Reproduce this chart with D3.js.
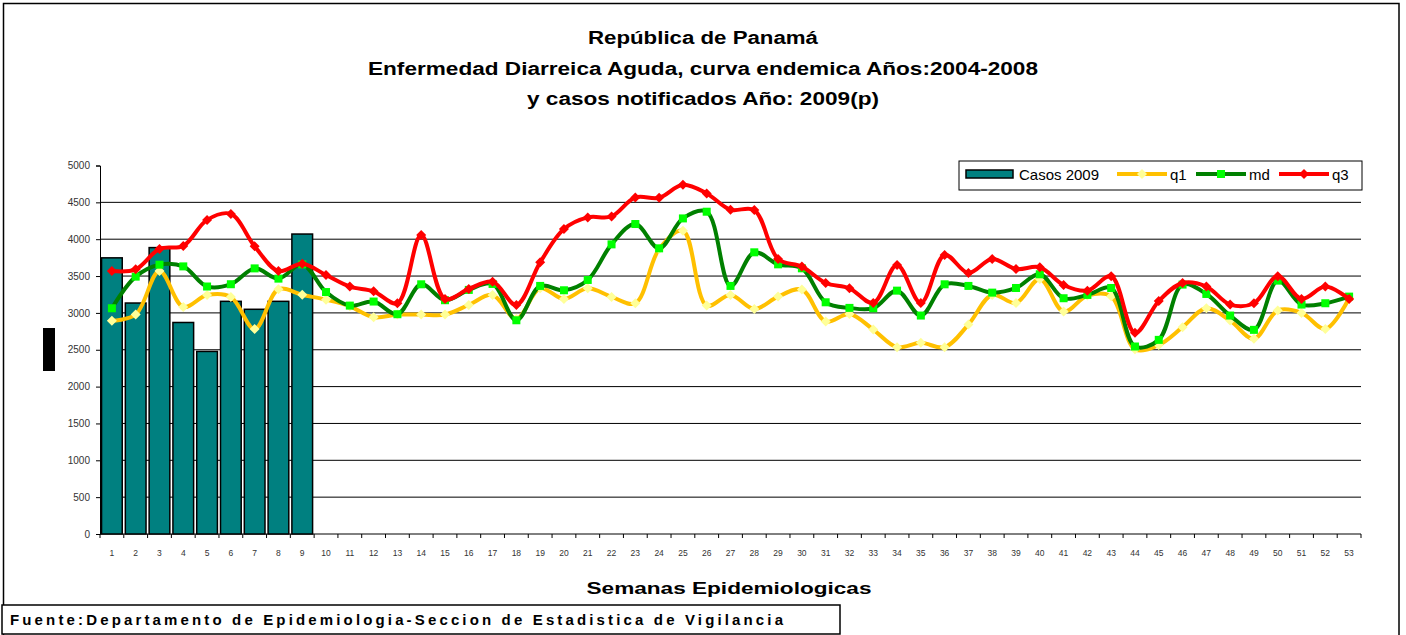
<!DOCTYPE html>
<meta charset="utf-8">
<script src="https://d3js.org/d3.v7.min.js"></script>
<style>
  body { margin: 0; background: #fff; }
  text { font-family: "Liberation Sans", Arial, sans-serif; }
</style>
<div id="chart"></div>
<script>

// data
var weeks = d3.range(1, 54);
var casos2009 = [3747, 3134, 3886, 2870, 2477, 3157, 3049, 3157, 4070];
var q1 = [2893, 2978, 3568, 3081, 3242, 3215, 2781, 3322, 3246, 3179,
          3090, 2941, 2977, 2977, 2977, 3108, 3244, 2919, 3334, 3190,
          3334, 3217, 3131, 3867, 4115, 3099, 3244, 3054, 3221, 3316,
          2883, 2986, 2774, 2535, 2594, 2535, 2842, 3244, 3135, 3461,
          3018, 3235, 3226, 2508, 2565, 2806, 3063, 2896, 2648, 3032,
          3000, 2783, 3199];
var md = [3063, 3492, 3654, 3631, 3358, 3389, 3604, 3465, 3658, 3283,
          3099, 3154, 2982, 3388, 3172, 3312, 3393, 2900, 3366, 3307,
          3447, 3930, 4206, 3876, 4282, 4373, 3366, 3822, 3659, 3605,
          3144, 3068, 3063, 3302, 2964, 3388, 3366, 3275, 3338, 3524,
          3199, 3244, 3338, 2544, 2634, 3384, 3257, 2964, 2770, 3438,
          3113, 3131, 3221];
var q3 = [3568, 3591, 3868, 3909, 4262, 4343, 3904, 3568, 3667, 3514,
          3357, 3293, 3131, 4057, 3190, 3325, 3424, 3108, 3686, 4138,
          4296, 4309, 4567, 4562, 4738, 4621, 4400, 4395, 3731, 3628,
          3406, 3334, 3135, 3650, 3135, 3786, 3542, 3731, 3596, 3619,
          3379, 3302, 3497, 2729, 3160, 3406, 3357, 3113, 3131, 3497,
          3190, 3357, 3190];
var yTicks = d3.range(0, 5001, 500);

var titleLines = ["República de Panamá",
                  "Enfermedad Diarreica Aguda, curva endemica Años:2004-2008",
                  "y casos notificados Año: 2009(p)"];

var W = 1406, H = 635;
var plot = {left: 100, right: 1361, top: 165.5, bottom: 534};

var svg = d3.select("#chart").append("svg")
    .attr("width", W).attr("height", H);

svg.append("rect").attr("width", W).attr("height", H).attr("fill", "#fff");

// outer frame
svg.append("rect")
    .attr("x", 3.5).attr("y", 3.5)
    .attr("width", 1395.5).attr("height", 660)
    .attr("fill", "none").attr("stroke", "#000").attr("stroke-width", 1.5);

// title
var titleWidths = [230, 670, 352];
svg.selectAll(".title").data(titleLines).enter().append("text")
    .attr("x", 703)
    .attr("y", function(d, i) { return 44 + i * 30.5; })
    .attr("text-anchor", "middle")
    .attr("font-size", 18).attr("font-weight", "bold")
    .attr("textLength", function(d, i) { return titleWidths[i]; })
    .attr("lengthAdjust", "spacingAndGlyphs")
    .text(function(d) { return d; });

var x = d3.scaleBand().domain(weeks).range([plot.left, plot.right]);
var xBar = d3.scaleBand().domain(weeks).range([plot.left, plot.right])
    .paddingInner(0.13).paddingOuter(0.065);
var y = d3.scaleLinear().domain([0, 5000]).range([plot.bottom, plot.top]);

// gridlines
svg.append("g").selectAll("line")
  .data(yTicks.filter(function(v) { return v > 0 && v < 5000; }))
  .enter().append("line")
    .attr("x1", plot.left).attr("x2", plot.right)
    .attr("y1", function(d) { return y(d); })
    .attr("y2", function(d) { return y(d); })
    .attr("stroke", "#000").attr("stroke-width", 1);

// y axis
var yAxis = svg.append("g")
    .attr("transform", "translate(" + plot.left + ",0)")
    .call(d3.axisLeft(y).tickValues(yTicks).tickFormat(d3.format("d"))
      .tickSize(4).tickPadding(6));
yAxis.selectAll("text").attr("font-size", 10).attr("fill", "#333")
    .style("font-family", "Liberation Sans, Arial, sans-serif");
yAxis.selectAll("line, path").attr("stroke", "#000");

// x axis (ticks on band edges)
var xg = svg.append("g");
xg.append("line")
    .attr("x1", plot.left).attr("x2", plot.right)
    .attr("y1", plot.bottom).attr("y2", plot.bottom)
    .attr("stroke", "#000");
xg.selectAll(".xt").data(weeks.concat([54])).enter().append("line")
    .attr("x1", function(d) { return d < 54 ? x(d) : plot.right; })
    .attr("x2", function(d) { return d < 54 ? x(d) : plot.right; })
    .attr("y1", plot.bottom).attr("y2", plot.bottom + 4)
    .attr("stroke", "#000");
xg.selectAll(".xl").data(weeks).enter().append("text")
    .attr("x", function(d) { return x(d) + x.bandwidth() / 2; })
    .attr("y", 556)
    .attr("text-anchor", "middle")
    .attr("font-size", 8.5).attr("fill", "#333")
    .text(function(d) { return d; });

// bars
svg.append("g").selectAll("rect")
  .data(casos2009)
  .enter().append("rect")
    .attr("x", function(d, i) { return xBar(weeks[i]); })
    .attr("y", function(d) { return y(d); })
    .attr("width", xBar.bandwidth())
    .attr("height", function(d) { return y(0) - y(d); })
    .attr("fill", "#008080")
    .attr("stroke", "#000").attr("stroke-width", 1.5);

// lines
var series = [
  {name: "q1", values: q1, line: "#FFC000", marker: "#FFFF99", shape: "diamond"},
  {name: "md", values: md, line: "#008000", marker: "#00FF00", shape: "square"},
  {name: "q3", values: q3, line: "#FF0000", marker: "#FF0000", shape: "diamond"}
];

var line = d3.line()
    .x(function(d, i) { return x(weeks[i]) + x.bandwidth() / 2; })
    .y(function(d) { return y(d); })
    .curve(d3.curveCatmullRom.alpha(0.5));

function marker(g, s, cx, cy) {
  if (s.shape == "square") {
    g.append("rect")
      .attr("x", cx - 4).attr("y", cy - 4)
      .attr("width", 8).attr("height", 8)
      .attr("fill", s.marker);
  } else {
    g.append("path")
      .attr("d", "M" + cx + "," + (cy - 5) + "L" + (cx + 5) + "," + cy +
                 "L" + cx + "," + (cy + 5) + "L" + (cx - 5) + "," + cy + "Z")
      .attr("fill", s.marker);
  }
}

series.forEach(function(s) {
  var g = svg.append("g");
  g.append("path")
    .attr("d", line(s.values))
    .attr("fill", "none")
    .attr("stroke", s.line).attr("stroke-width", 4)
    .attr("stroke-linejoin", "round");
  s.values.forEach(function(v, i) {
    marker(g, s, x(weeks[i]) + x.bandwidth() / 2, y(v));
  });
});

// legend
var lg = svg.append("g");
lg.append("rect")
    .attr("x", 959).attr("y", 161).attr("width", 403).attr("height", 29)
    .attr("fill", "#fff").attr("stroke", "#000").attr("stroke-width", 1);
lg.append("rect")
    .attr("x", 966).attr("y", 170).attr("width", 47).attr("height", 8)
    .attr("fill", "#008080").attr("stroke", "#000").attr("stroke-width", 1.5);
lg.append("text").attr("x", 1019).attr("y", 180)
    .attr("font-size", 15).text("Casos 2009");
var legX = [1117, 1196, 1279];
series.forEach(function(s, i) {
  lg.append("line")
    .attr("x1", legX[i]).attr("x2", legX[i] + 50)
    .attr("y1", 174).attr("y2", 174)
    .attr("stroke", s.line).attr("stroke-width", 4);
  marker(lg, s, legX[i] + 25, 174);
  lg.append("text").attr("x", legX[i] + 53).attr("y", 180)
    .attr("font-size", 15).text(s.name);
});

// black block left of the axis
svg.append("rect")
    .attr("x", 43).attr("y", 328).attr("width", 12).attr("height", 43)
    .attr("fill", "#000");

// axis title
svg.append("text")
    .attr("x", 729).attr("y", 594)
    .attr("text-anchor", "middle")
    .attr("font-size", 17).attr("font-weight", "bold")
    .attr("textLength", 285).attr("lengthAdjust", "spacingAndGlyphs")
    .text("Semanas Epidemiologicas");

// source box
svg.append("rect")
    .attr("x", 2).attr("y", 605).attr("width", 838).attr("height", 29)
    .attr("fill", "#fff").attr("stroke", "#000").attr("stroke-width", 1.5);
svg.append("text")
    .attr("x", 10).attr("y", 625)
    .attr("font-size", 15).attr("font-weight", "bold")
    .attr("textLength", 773).attr("lengthAdjust", "spacing")
    .text("Fuente:Departamento de Epidemiologia-Seccion de Estadistica de Vigilancia");

</script>
